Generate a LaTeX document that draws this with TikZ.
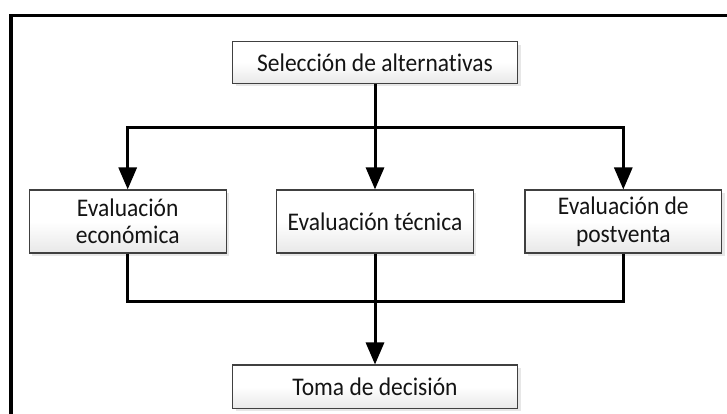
\documentclass[tikz,border=0pt]{standalone}
\usepackage{fontspec}
\setmainfont{Carlito}[FakeStretch=0.925,Ligatures=NoCommon]
\usetikzlibrary{arrows.meta,shadows}
\tikzset{
  box/.style={draw=black!75, line width=1.1pt, rectangle, inner sep=0pt,
    top color=white, bottom color=black!9, middle color=white,
    drop shadow={shadow xshift=3pt, shadow yshift=-3pt, fill=black!18},
    font=\fontsize{25.4}{27.5}\selectfont, text=black!92, align=center},
  conn/.style={line width=3pt, draw=black},
  arr/.style={conn, -{Triangle[width=18pt,length=22pt]}},
  frameline/.style={line width=3.6pt, draw=black}
}
\begin{document}
\begin{tikzpicture}[x=1pt,y=1pt]
\useasboundingbox[fill=white] (0,0) rectangle (727,414);
% frame
\draw[frameline] (11,-10) -- (11,398.5) -- (740,398.5);
% nodes
\node[box, minimum width=285pt, minimum height=41.6pt] (sel) at (375,351.5) {Selección de alternativas};
\node[box, minimum width=196.7pt, minimum height=63pt] (eco) at (127.7,192.5) {Evaluación\\económica};
\node[box, minimum width=196.7pt, minimum height=63pt] (tec) at (375,192.5) {Evaluación técnica};
\node[box, minimum width=196.7pt, minimum height=63pt] (pos) at (623.3,192.5) {Evaluación de\\postventa};
\node[box, minimum width=285pt, minimum height=43.3pt] (dec) at (375,27.3) {Toma de decisión};
% junctions
\coordinate (jt) at (375,286.7);
\coordinate (jb) at (375,112.3);
% connectors
\draw[conn] (sel.south) -- (jt);
\draw[arr] (jt) -| (eco.north);
\draw[arr] (jt) -- (tec.north);
\draw[arr] (jt) -| (pos.north);
\draw[conn] (eco.south) |- (jb);
\draw[conn] (pos.south) |- (jb);
\draw[arr] (tec.south) -- (dec.north);
\end{tikzpicture}
\end{document}
